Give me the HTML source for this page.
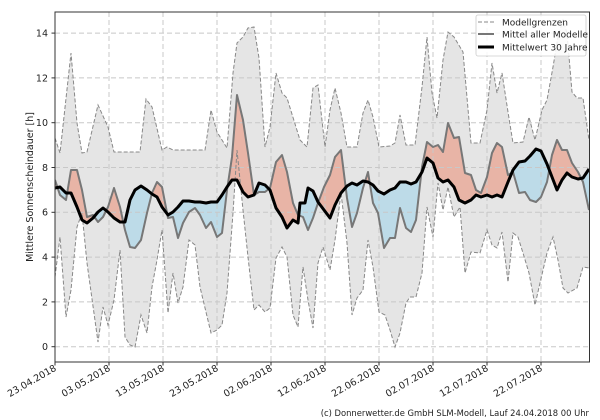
<!DOCTYPE html>
<html><head><meta charset="utf-8"><style>
html,body{margin:0;padding:0;background:#fff;}
svg{display:block;font-family:"DejaVu Sans","Liberation Sans",sans-serif;}
</style></head><body>
<svg id="s" width="600" height="420" viewBox="0 0 600 420" xmlns="http://www.w3.org/2000/svg">
<defs>
<clipPath id="plot"><rect x="55" y="12" width="535" height="350"/></clipPath>
<clipPath id="above"><polygon id="cabove"/></clipPath>
<clipPath id="below"><polygon id="cbelow"/></clipPath>
</defs>
<rect x="0" y="0" width="600" height="420" fill="#fff"/>
<g clip-path="url(#plot)">
<polygon id="band" fill="#e5e5e5" stroke="none"/>
<polygon id="red" fill="#e8b4a6" clip-path="url(#above)"/>
<polygon id="blue" fill="#bddbe8" clip-path="url(#below)"/>
<g id="grid" stroke="#c8c8c8" stroke-width="1" stroke-dasharray="5,3"></g>
<polyline id="up" fill="none" stroke="#888" stroke-width="1" stroke-dasharray="4,2"/>
<polyline id="lo" fill="none" stroke="#888" stroke-width="1" stroke-dasharray="4,2"/>
<polyline id="mm" fill="none" stroke="#777" stroke-width="2" stroke-linejoin="round"/>
<polyline id="cm" fill="none" stroke="#000" stroke-width="3" stroke-linejoin="round"/>
</g>
<rect x="55" y="12" width="534.5" height="350" fill="none" stroke="#333" stroke-width="1"/>
<g id="ticks" font-size="9.5" fill="#222"></g>
<text transform="translate(33,187) rotate(-90)" text-anchor="middle" font-size="9.5" fill="#222">Mittlere Sonnenscheindauer [h]</text>
<g>
<rect x="476" y="15" width="110" height="41" fill="#fff" fill-opacity="0.85" stroke="#ccc" stroke-width="0.8" rx="2"/>
<line x1="478" y1="22" x2="494" y2="22" stroke="#888" stroke-width="1" stroke-dasharray="4,2"/>
<line x1="478" y1="34" x2="494" y2="34" stroke="#777" stroke-width="2"/>
<line x1="478" y1="47" x2="494" y2="47" stroke="#000" stroke-width="3"/>
<text x="502" y="25.5" font-size="9" fill="#222">Modellgrenzen</text>
<text x="502" y="37.5" font-size="9" fill="#222">Mittel aller Modelle</text>
<text x="502" y="50.5" font-size="9" fill="#222">Mittelwert 30 Jahre</text>
</g>
<text x="589" y="416" text-anchor="end" font-size="8.4" fill="#222">(c) Donnerwetter.de GmbH SLM-Modell, Lauf 24.04.2018 00 Uhr</text>
</svg>
<script>
var up=[[55,138],[60,153],[71,53],[77,123],[82,153],[87,152],[98,105],[108,127],[114,152],[140,152],[146,99],[152,107],[162,150],[167,147],[173,150],[205,150],[211,110],[217,132],[227,148],[233,73],[237,43],[243,37],[248,28],[254,27],[259,58],[265,147],[270,127],[276,73],[282,93],[287,98],[300,140],[307,147],[313,88],[318,85],[325,147],[330,110],[335,88],[341,113],[347,147],[357,147],[363,113],[368,100],[373,117],[379,147],[390,146],[395,143],[400,115],[406,145],[415,145],[422,87],[427,37],[432,93],[437,118],[443,60],[448,32],[454,37],[463,52],[471,143],[480,143],[487,110],[492,63],[497,93],[502,73],[508,112],[513,143],[523,142],[529,117],[535,140],[542,110],[547,100],[553,67],[558,37],[563,20],[567,33],[572,92],[577,98],[583,98],[589,140]];
var lo=[[55,277],[60,237],[66,317],[71,290],[77,227],[82,213],[87,263],[98,342],[103,307],[108,325],[114,300],[120,250],[125,337],[130,345],[135,347],[141,315],[147,333],[152,287],[157,260],[162,230],[168,313],[173,273],[178,303],[183,287],[189,240],[195,245],[200,287],[211,333],[217,330],[222,325],[227,293],[233,213],[237,150],[243,210],[248,257],[254,310],[259,305],[265,312],[270,308],[276,258],[282,247],[287,257],[293,315],[298,327],[303,267],[308,300],[313,328],[318,263],[323,247],[330,270],[335,240],[341,193],[347,243],[352,315],[357,298],[363,290],[368,240],[373,267],[379,312],[385,315],[390,330],[395,347],[400,333],[406,303],[410,297],[416,297],[422,273],[427,207],[433,237],[438,183],[443,210],[448,187],[454,217],[460,207],[465,273],[471,252],[480,253],[487,230],[492,245],[497,248],[502,232],[508,282],[513,233],[518,237],[523,253],[529,273],[535,305],[540,283],[547,253],[553,237],[558,260],[563,288],[568,293],[577,288],[583,267],[589,268]];
var mm=[[55,180],[60,195],[66,200],[71,170],[77,170],[82,190],[87,217],[93,215],[98,222],[103,217],[108,207],[114,188],[120,207],[125,230],[130,247],[135,248],[141,240],[147,213],[152,193],[157,182],[162,187],[168,218],[173,217],[178,238],[183,223],[189,212],[195,208],[200,215],[206,228],[211,222],[217,237],[222,233],[227,190],[232,157],[237,95],[243,120],[248,153],[254,195],[259,192],[265,192],[270,188],[276,162],[282,155],[287,172],[293,203],[298,215],[303,217],[308,230],[313,218],[318,203],[324,187],[330,175],[335,157],[341,150],[347,198],[352,227],[357,213],[363,188],[368,172],[373,203],[378,213],[384,248],[390,238],[395,238],[400,208],[406,228],[411,232],[416,220],[422,167],[427,142],[433,147],[438,145],[443,152],[448,123],[454,138],[459,137],[465,173],[471,175],[476,190],[481,193],[487,177],[492,153],[497,143],[502,147],[508,175],[513,172],[519,193],[525,192],[530,200],[536,202],[541,197],[547,182],[552,155],[557,140],[562,150],[567,150],[572,163],[578,172],[583,182],[589,210]];
var cm=[[55,188],[60,187],[66,193],[71,193],[77,207],[82,220],[87,223],[93,218],[98,212],[103,208],[108,212],[114,218],[120,222],[125,222],[130,200],[135,190],[141,186],[147,190],[152,194],[157,197],[162,207],[168,215],[173,212],[178,207],[183,201],[189,201],[195,202],[200,202],[206,203],[211,202],[217,202],[222,195],[227,187],[232,180],[237,180],[243,192],[248,197],[254,195],[259,183],[265,185],[270,190],[276,208],[282,217],[287,228],[293,220],[298,223],[300,203],[305,203],[308,188],[313,191],[318,202],[324,210],[330,218],[335,205],[341,193],[347,186],[352,183],[357,185],[363,181],[368,182],[373,185],[378,191],[384,194],[390,190],[395,188],[400,182],[406,182],[411,184],[416,182],[422,172],[427,158],[433,163],[438,178],[443,182],[448,180],[454,187],[459,200],[465,203],[471,200],[476,195],[481,197],[487,195],[492,197],[497,195],[502,197],[508,182],[513,170],[519,162],[525,161],[530,156],[536,149],[541,151],[547,164],[552,177],[557,190],[562,180],[567,173],[572,177],[578,179],[583,178],[589,169]];
function s(a){return a.map(function(p){return p[0]+","+p[1]}).join(" ");}
function rev(a){return a.slice().reverse();}
document.getElementById("up").setAttribute("points",s(up));
document.getElementById("lo").setAttribute("points",s(lo));
document.getElementById("mm").setAttribute("points",s(mm));
document.getElementById("cm").setAttribute("points",s(cm));
document.getElementById("band").setAttribute("points",s(up.concat(rev(lo))));
var between=s(mm.concat(rev(cm)));
document.getElementById("red").setAttribute("points",between);
document.getElementById("blue").setAttribute("points",between);
document.getElementById("cabove").setAttribute("points",s([[40,0]].concat([[55,cm[0][1]]],cm,[[600,cm[cm.length-1][1]],[600,0]])));
document.getElementById("cbelow").setAttribute("points",s([[40,420]].concat([[55,cm[0][1]]],cm,[[600,cm[cm.length-1][1]],[600,420]])));
var NS="http://www.w3.org/2000/svg",g=document.getElementById("grid"),t=document.getElementById("ticks");
function el(n,a,p,txt){var e=document.createElementNS(NS,n);for(var k in a)e.setAttribute(k,a[k]);if(txt)e.textContent=txt;p.appendChild(e);return e;}
for(var v=0;v<=14;v+=2){var y=346.7-v*22.4;el("line",{x1:55,x2:590,y1:y,y2:y},g);
el("line",{x1:51.5,x2:55,y1:y,y2:y,stroke:"#333"},t);el("text",{x:48,y:y+3.4,"text-anchor":"end"},t,String(v));}
var labs=["23.04.2018","03.05.2018","13.05.2018","23.05.2018","02.06.2018","12.06.2018","22.06.2018","02.07.2018","12.07.2018","22.07.2018"];
for(var i=0;i<labs.length;i++){var x=55+i*54;el("line",{x1:x,x2:x,y1:12,y2:362},g);
el("line",{x1:x,x2:x,y1:362,y2:365.5,stroke:"#333"},t);
el("text",{x:x+2,y:370,"text-anchor":"end",transform:"rotate(-30 "+(x+2)+" 370)"},t,labs[i]);}
</script>
</body></html>
